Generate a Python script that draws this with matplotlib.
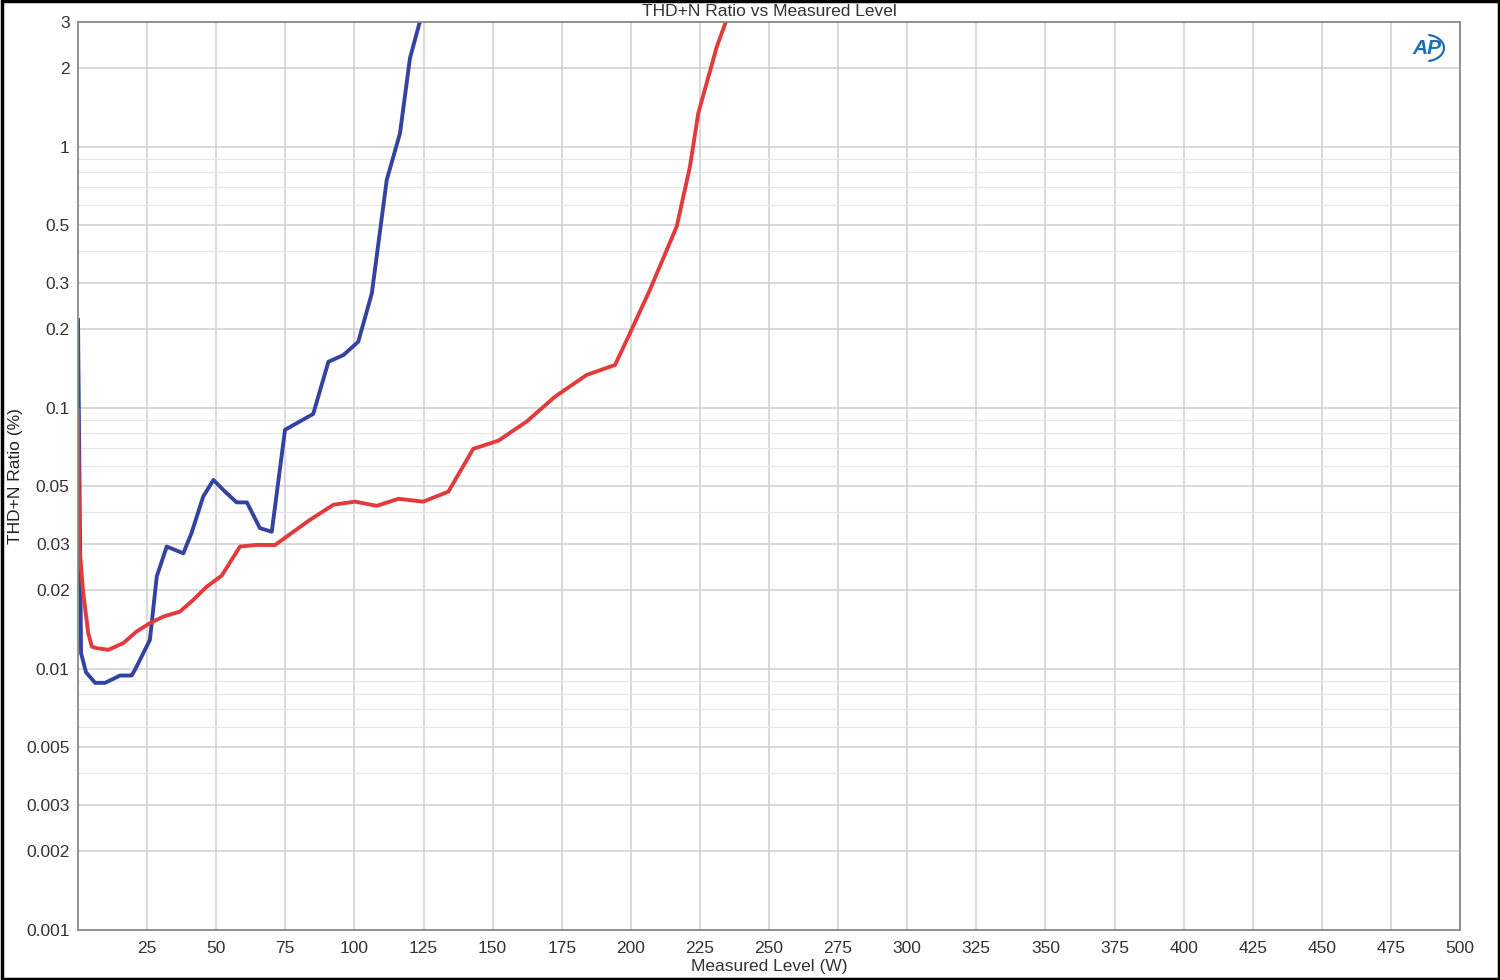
import numpy as np
import matplotlib
matplotlib.use("Agg")
import matplotlib.pyplot as plt
from matplotlib.patches import Rectangle, Arc

plt.rcParams['font.family'] = ['Liberation Sans', 'DejaVu Sans']

# ---- data ----
blue_w = [0.0, 1.1, 2.9, 6.2, 9.8, 15.2, 19.4, 20.6, 26.0, 28.5, 32.1, 38.1, 41.1,
          45.3, 49.0, 53.2, 57.4, 61.1, 65.8, 70.1, 74.9, 85.1, 90.6, 96.0, 101.4,
          106.3, 111.7, 116.5, 120.1, 124.7]
blue_thd = [0.217, 0.0115, 0.0097, 0.00884, 0.00884, 0.00943, 0.00943, 0.00991,
            0.0129, 0.0226, 0.0294, 0.0277, 0.0332, 0.0457, 0.0529, 0.0477, 0.0434,
            0.0434, 0.0346, 0.0335, 0.0823, 0.0947, 0.150, 0.159, 0.179, 0.274,
            0.745, 1.125, 2.18, 3.3]

red_w = [0.0, 0.5, 1.9, 3.7, 5.0, 6.8, 11.0, 16.4, 21.2, 26.0, 30.9, 36.9, 41.7,
         46.6, 52.0, 58.6, 64.7, 71.3, 75.5, 83.9, 92.4, 100.2, 108.1, 115.9, 124.9,
         134.0, 143.0, 152.1, 162.3, 172.6, 184.0, 194.3, 199.7, 206.9, 216.6,
         221.4, 224.4, 231.1, 235.8]
red_thd = [0.098, 0.0294, 0.0195, 0.0137, 0.01217, 0.0120, 0.01183, 0.01255, 0.0139,
           0.01496, 0.01586, 0.01657, 0.01837, 0.02066, 0.02276, 0.0294, 0.02984,
           0.0298, 0.0321, 0.0372, 0.0425, 0.0437, 0.0421, 0.0448, 0.0437, 0.0477,
           0.0696, 0.0748, 0.0885, 0.1103, 0.1335, 0.1458, 0.193, 0.2826, 0.494,
           0.838, 1.341, 2.41, 3.3]

x_ticks = list(range(25, 501, 25))
y_ticks = [3, 2, 1, 0.5, 0.3, 0.2, 0.1, 0.05, 0.03, 0.02, 0.01, 0.005, 0.003, 0.002, 0.001]
y_tick_labels = ['3', '2', '1', '0.5', '0.3', '0.2', '0.1', '0.05', '0.03', '0.02',
                 '0.01', '0.005', '0.003', '0.002', '0.001']

# ---- figure ----
fig = plt.figure(figsize=(15, 9.8), dpi=100)
ax = fig.add_axes([78/1500, 1 - 930/980, (1460-78)/1500, (930-22)/980])

ax.set_yscale('log')
ax.set_xlim(0, 500)
ax.set_ylim(0.001, 3)

# minor grid lines (log decades)
minor_vals = []
for dec in [0.001, 0.01, 0.1, 1]:
    for m in range(2, 10):
        v = m * dec
        if v <= 3 and not any(abs(v - t) < 1e-12 for t in y_ticks):
            minor_vals.append(v)
ax.set_yticks(minor_vals, minor=True)
ax.set_yticks(y_ticks)
ax.set_yticklabels(y_tick_labels)
ax.set_xticks(x_ticks)
ax.set_xticklabels([str(t) for t in x_ticks])

ax.grid(True, which='major', axis='both', color='#cfcfcf', linewidth=1.1)
ax.grid(True, which='minor', axis='y', color='#e6e6e6', linewidth=0.9)
ax.set_axisbelow(True)

ax.tick_params(axis='both', which='both', length=0)
ax.tick_params(axis='y', pad=6, labelsize=12.5, colors='#333333')
ax.tick_params(axis='x', pad=8, labelsize=12.5, colors='#333333')
ax.yaxis.set_tick_params(which='minor', labelleft=False)

for s in ax.spines.values():
    s.set_color('#8a8a8a')
    s.set_linewidth(1.3)

ax.plot(blue_w, blue_thd, color='#3442a0', linewidth=2.8, solid_joinstyle='round', clip_on=True)
ax.plot(red_w, red_thd, color='#e23b3b', linewidth=2.8, solid_joinstyle='round', clip_on=True)

ax.set_xlabel('Measured Level (W)', fontsize=12.5, color='#333333', labelpad=2)
fig.text(16/1500, 1 - 476/980, 'THD+N Ratio (%)', rotation=90, ha='center', va='center',
         fontsize=12.5, color='#222222')
fig.text(769/1500, 1 - 11/980, 'THD+N Ratio vs Measured Level', ha='center', va='center',
         fontsize=12.5, color='#333333')

# AP logo
fig.text(1427/1500, 1 - 48/980, 'AP', ha='center', va='center', fontsize=15,
         fontweight='bold', style='italic', color='#1f6db3')
logo_ax = fig.add_axes([1405/1500, 1 - 62/980, 40/1500, 28/980])
logo_ax.set_axis_off()
logo_ax.set_xlim(0, 1)
logo_ax.set_ylim(0, 1)
logo_ax.add_patch(Arc((0.5, 0.5), 0.95, 0.95, theta1=-80, theta2=80, color='#1f6db3', linewidth=1.6))

# figure border
fig.patches.append(Rectangle((0.001, 0.001), 0.998, 0.998, transform=fig.transFigure,
                             fill=False, edgecolor='black', linewidth=2.5))

fig.savefig('out.png', dpi=100, facecolor='white')
